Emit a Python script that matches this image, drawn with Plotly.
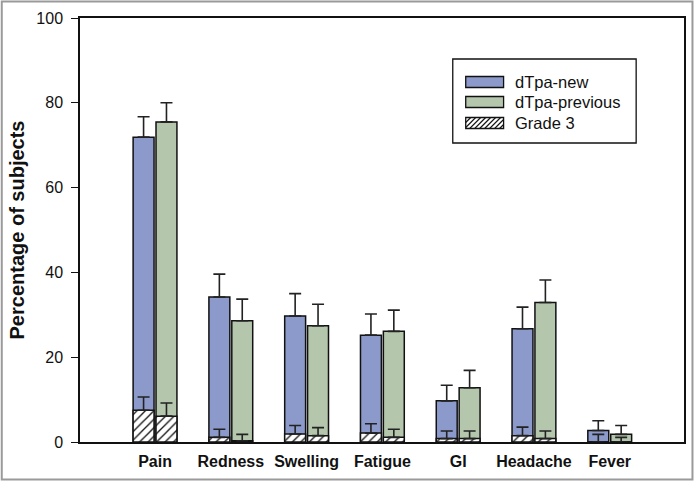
import plotly.graph_objects as go

categories = ["Pain", "Redness", "Swelling", "Fatigue", "GI", "Headache", "Fever"]

new_vals = [71.9, 34.2, 29.7, 25.2, 9.7, 26.7, 2.7]
new_upper = [76.7, 39.6, 35.0, 30.2, 13.4, 31.8, 5.0]
prev_vals = [75.5, 28.6, 27.4, 26.1, 12.8, 32.9, 1.8]
prev_upper = [80.0, 33.7, 32.5, 31.1, 16.9, 38.2, 3.9]

g3_new_vals = [7.5, 1.1, 1.9, 2.1, 0.8, 1.5, 0.0]
g3_new_upper = [10.6, 3.0, 3.9, 4.3, 2.6, 3.5, 1.8]
g3_prev_vals = [6.1, 0.3, 1.5, 1.1, 0.8, 0.8, 0.0]
g3_prev_upper = [9.2, 1.8, 3.4, 3.0, 2.6, 2.6, 1.1]

legend_labels = ["dTpa-new", "dTpa-previous", "Grade 3"]

BLUE = "#8b9acb"
GREEN = "#b4c7ad"
INK = "#111111"
FONT = "Arial, Liberation Sans, sans-serif"
W = 0.276
OFF_NEW = -0.289
OFF_PREV = 0.013

# figure geometry (pixels)
FW, FH = 696, 482
ML, MR, MT, MB = 80, 10, 18, 40
PW, PH = FW - ML - MR, FH - MT - MB


def px(x):
    return (x - ML) / PW


def py(y):
    return (FH - MB - y) / PH


def err(vals, upper):
    return dict(type="data", symmetric=False,
                array=[u - v for u, v in zip(upper, vals)],
                arrayminus=[0] * len(vals),
                color="#222222", thickness=1.6, width=6)


fig = go.Figure()
fig.add_trace(go.Bar(x=categories, y=new_vals, name=legend_labels[0], width=W, offset=OFF_NEW,
                     marker=dict(color=BLUE, line=dict(color=INK, width=1.5)),
                     error_y=err(new_vals, new_upper)))
fig.add_trace(go.Bar(x=categories, y=prev_vals, name=legend_labels[1], width=W, offset=OFF_PREV,
                     marker=dict(color=GREEN, line=dict(color=INK, width=1.5)),
                     error_y=err(prev_vals, prev_upper)))
hatch = dict(shape="/", fgcolor=INK, bgcolor="white", size=6, solidity=0.22, fillmode="replace")
fig.add_trace(go.Bar(x=categories, y=g3_new_vals, name=legend_labels[2], width=W, offset=OFF_NEW,
                     marker=dict(color="white", pattern=hatch, line=dict(color=INK, width=1.5)),
                     error_y=err(g3_new_vals, g3_new_upper)))
fig.add_trace(go.Bar(x=categories, y=g3_prev_vals, name=legend_labels[2], width=W, offset=OFF_PREV,
                     marker=dict(color="white", pattern=hatch, line=dict(color=INK, width=1.5)),
                     error_y=err(g3_prev_vals, g3_prev_upper)))

fig.update_layout(
    width=FW, height=FH,
    margin=dict(l=ML, r=MR, t=MT, b=MB),
    paper_bgcolor="white", plot_bgcolor="white",
    barmode="overlay",
    showlegend=False,
    font=dict(family=FONT, color=INK),
    xaxis=dict(range=[-0.99, 6.98], showline=True, linecolor=INK, linewidth=1.5,
               mirror=True, ticks="", showgrid=False, ticklabelstandoff=4,
               tickfont=dict(size=16, family=FONT, weight="bold")),
    yaxis=dict(range=[0, 100], showline=True, linecolor=INK, linewidth=1.5,
               mirror=True, ticks="outside", ticklen=7, tickwidth=1.3, tickcolor=INK,
               dtick=20, showgrid=False, zeroline=False, ticklabelstandoff=5,
               tickfont=dict(size=16, family=FONT),
               title=dict(text="Percentage of subjects", standoff=6,
                          font=dict(size=20, family=FONT, weight="bold"))),
)

# manual legend box
fig.add_shape(type="rect", xref="paper", yref="paper",
              x0=px(454), x1=px(638), y0=py(143), y1=py(59),
              line=dict(color=INK, width=1.3), fillcolor="white", layer="above")
row_y = [82, 102, 123]
sw_x0, sw_x1, sw_h = 467, 505, 11
for i, (lab, col) in enumerate(zip(legend_labels, [BLUE, GREEN, "white"])):
    yc = row_y[i]
    fig.add_shape(type="rect", xref="paper", yref="paper",
                  x0=px(sw_x0), x1=px(sw_x1), y0=py(yc + sw_h / 2), y1=py(yc - sw_h / 2),
                  line=dict(color=INK, width=1.3), fillcolor=col, layer="above")
    fig.add_annotation(x=px(514), y=py(yc), xref="paper", yref="paper", text=lab,
                       showarrow=False, xanchor="left", yanchor="middle",
                       font=dict(size=16.5, family=FONT, color=INK))
# hatch lines in the Grade 3 swatch
yc = row_y[2]
top, bot = yc - sw_h / 2, yc + sw_h / 2
step = 5
start = sw_x0 - sw_h
while start < sw_x1:
    xa, ya = start, bot
    xb, yb = start + sw_h, top
    if xa < sw_x0:
        ya = bot - (sw_x0 - xa)
        xa = sw_x0
    if xb > sw_x1:
        yb = top + (xb - sw_x1)
        xb = sw_x1
    if xb > xa:
        fig.add_shape(type="line", xref="paper", yref="paper",
                      x0=px(xa), y0=py(ya), x1=px(xb), y1=py(yb),
                      line=dict(color=INK, width=1.1), layer="above")
    start += step

# outer image frame
fig.add_shape(type="rect", xref="paper", yref="paper",
              x0=px(1.5), x1=px(694.5), y0=py(479.5), y1=py(1.5),
              line=dict(color="#9a9a9a", width=2), fillcolor="rgba(0,0,0,0)", layer="above")

fig.write_html("out.html", config={"displayModeBar": False},
               post_script="document.body.style.margin='0';document.body.style.padding='0';")
